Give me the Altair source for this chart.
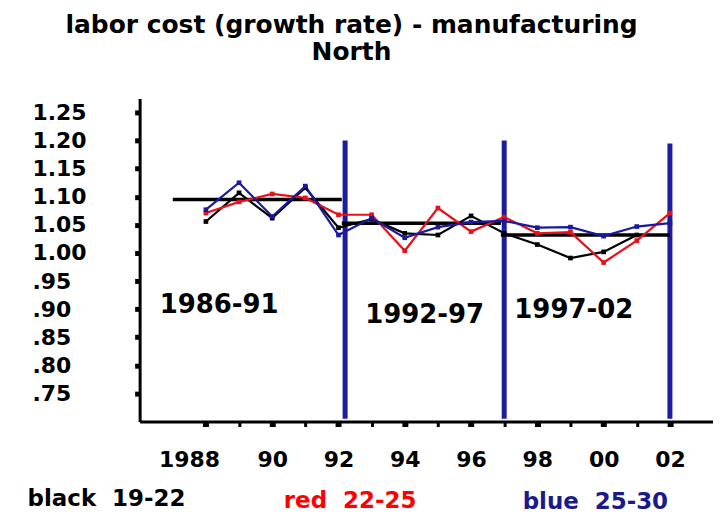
import altair as alt
import pandas as pd

# ---- data ----
years = list(range(1988, 2003))
black_19_22 = [1.056, 1.107, 1.062, 1.116, 1.045, 1.060, 1.035, 1.032, 1.066, 1.035, 1.015, 0.991, 1.002, 1.032, None]
red_22_25 = [1.071, 1.091, 1.105, 1.098, 1.068, 1.068, 1.004, 1.080, 1.038, 1.064, 1.035, 1.037, 0.983, 1.022, 1.071]
blue_25_30 = [1.077, 1.125, 1.065, 1.119, 1.032, 1.062, 1.027, 1.046, 1.055, 1.057, 1.045, 1.046, 1.030, 1.047, 1.053]

period_start = [1987.0, 1992.1, 1996.9]
period_end = [1992.1, 1996.9, 2002.0]
period_mean = [1.095, 1.053, 1.032]

break_years = [1992.2, 1997.0, 2002.0]
break_top = [1.20, 1.20, 1.195]
break_bottom = [0.705, 0.705, 0.705]

period_labels = ["1986-91", "1992-97", "1997-02"]
period_label_x = [1988.4, 1994.6, 1999.1]
period_label_y = [0.908, 0.889, 0.899]

legend_labels = ["black\u00a0\u00a019-22", "red\u00a0\u00a022-25", "blue\u00a0\u00a025-30"]
legend_x = [1985.0, 1992.35, 1999.75]
legend_y = [0.563, 0.559, 0.557]
legend_colors = ["#000000", "#ff0000", "#1a1a8c"]

y_ticks = [0.75, 0.80, 0.85, 0.90, 0.95, 1.00, 1.05, 1.10, 1.15, 1.20, 1.25]

series_names = ["black", "red", "blue"]
series_colors = ["#000000", "#e8101a", "#1a1aa0"]

FONT = "DejaVu Sans"

rows = []
for name, vals in zip(series_names, [black_19_22, red_22_25, blue_25_30]):
    for yr, v in zip(years, vals):
        if v is not None:
            rows.append({"series": name, "year": yr, "value": v})
df = pd.DataFrame(rows)

means = pd.DataFrame({"x": period_start, "x2": period_end, "y": period_mean})
breaks = pd.DataFrame({"x": break_years, "y": break_top, "y2": break_bottom})
plabels = pd.DataFrame({"t": period_labels, "x": period_label_x, "y": period_label_y})
legend = pd.DataFrame({"t": legend_labels, "x": legend_x, "y": legend_y, "c": legend_colors})

xscale = alt.Scale(domain=[1986, 2003.3], nice=False, zero=False)
yscale = alt.Scale(domain=[0.70, 1.275], nice=False, zero=False)

xaxis = alt.Axis(
    values=years,
    tickCount=30,
    labelExpr="datum.value % 2 == 0 ? (datum.value == 1988 ? '1988' : slice(toString(datum.value), 2)) : ''",
    labelOffset={"condition": {"test": "datum.value == 1988", "value": -17}, "value": 0},
    tickWidth={"condition": {"test": "datum.value % 2 == 0", "value": 6}, "value": 3},
    tickSize=5,
    labelPadding=23,
    labelFontSize=22,
    labelFont=FONT,
    labelFontWeight="bold",
    labelColor="#000000",
    domainColor="#000000",
    domainWidth=3,
    tickColor="#000000",
    grid=False,
    title=None,
    labelFlush=False,
    labelOverlap=False,
)
yaxis = alt.Axis(
    values=y_ticks,
    tickCount=30,
    labelExpr="datum.value >= 1 ? format(datum.value, '.2f') : slice(format(datum.value, '.2f'), 1)",
    labelAlign="left",
    labelBaseline="middle",
    tickSize=5,
    tickWidth=5,
    labelPadding=103,
    labelFontSize=22,
    labelFont=FONT,
    labelFontWeight="bold",
    labelColor="#000000",
    domainColor="#000000",
    domainWidth=3,
    tickColor="#000000",
    grid=False,
    title=None,
    labelOverlap=False,
)

color = alt.Color("series:N", scale=alt.Scale(domain=series_names, range=series_colors), legend=None)

lines = alt.Chart(df).mark_line(strokeWidth=2.2).encode(
    x=alt.X("year:Q", scale=xscale, axis=xaxis),
    y=alt.Y("value:Q", scale=yscale, axis=yaxis),
    color=color,
    detail="series:N",
)
points = alt.Chart(df).mark_point(filled=True, shape="square", size=22, opacity=1).encode(
    x=alt.X("year:Q", scale=xscale),
    y=alt.Y("value:Q", scale=yscale),
    color=color,
)
mean_rules = alt.Chart(means).mark_rule(color="#000000", strokeWidth=3.5).encode(
    x=alt.X("x:Q", scale=xscale), x2="x2:Q", y=alt.Y("y:Q", scale=yscale)
)
break_rules = alt.Chart(breaks).mark_rule(color="#1c1c9c", strokeWidth=5).encode(
    x=alt.X("x:Q", scale=xscale), y=alt.Y("y:Q", scale=yscale), y2="y2:Q"
)
ptext = alt.Chart(plabels).mark_text(
    font=FONT, fontWeight="bold", fontSize=26, color="#000000", align="center", baseline="middle"
).encode(x=alt.X("x:Q", scale=xscale), y=alt.Y("y:Q", scale=yscale), text="t:N")
ltext = alt.Chart(legend).mark_text(
    font=FONT, fontWeight="bold", fontSize=23, align="center", baseline="middle"
).encode(
    x=alt.X("x:Q", scale=xscale),
    y=alt.Y("y:Q", scale=yscale),
    text="t:N",
    color=alt.Color("c:N", scale=None),
)

chart = alt.layer(break_rules, mean_rules, lines, points, ptext, ltext).properties(
    width=575,
    height=324,
    autosize=alt.AutoSizeParams(type="none"),
    padding={"left": 132, "top": 90, "right": 0, "bottom": 92},
    background="#ffffff",
    title=alt.TitleParams(
        text=["labor cost (growth rate) - manufacturing", "North"],
        font=FONT,
        fontSize=25,
        fontWeight="bold",
        color="#000000",
        anchor="middle",
        dx=-75,
        offset=34,
        lineHeight=27,
    ),
).configure_view(stroke=None)

chart.save("out.html", embed_options={"renderer": "svg", "actions": False})
